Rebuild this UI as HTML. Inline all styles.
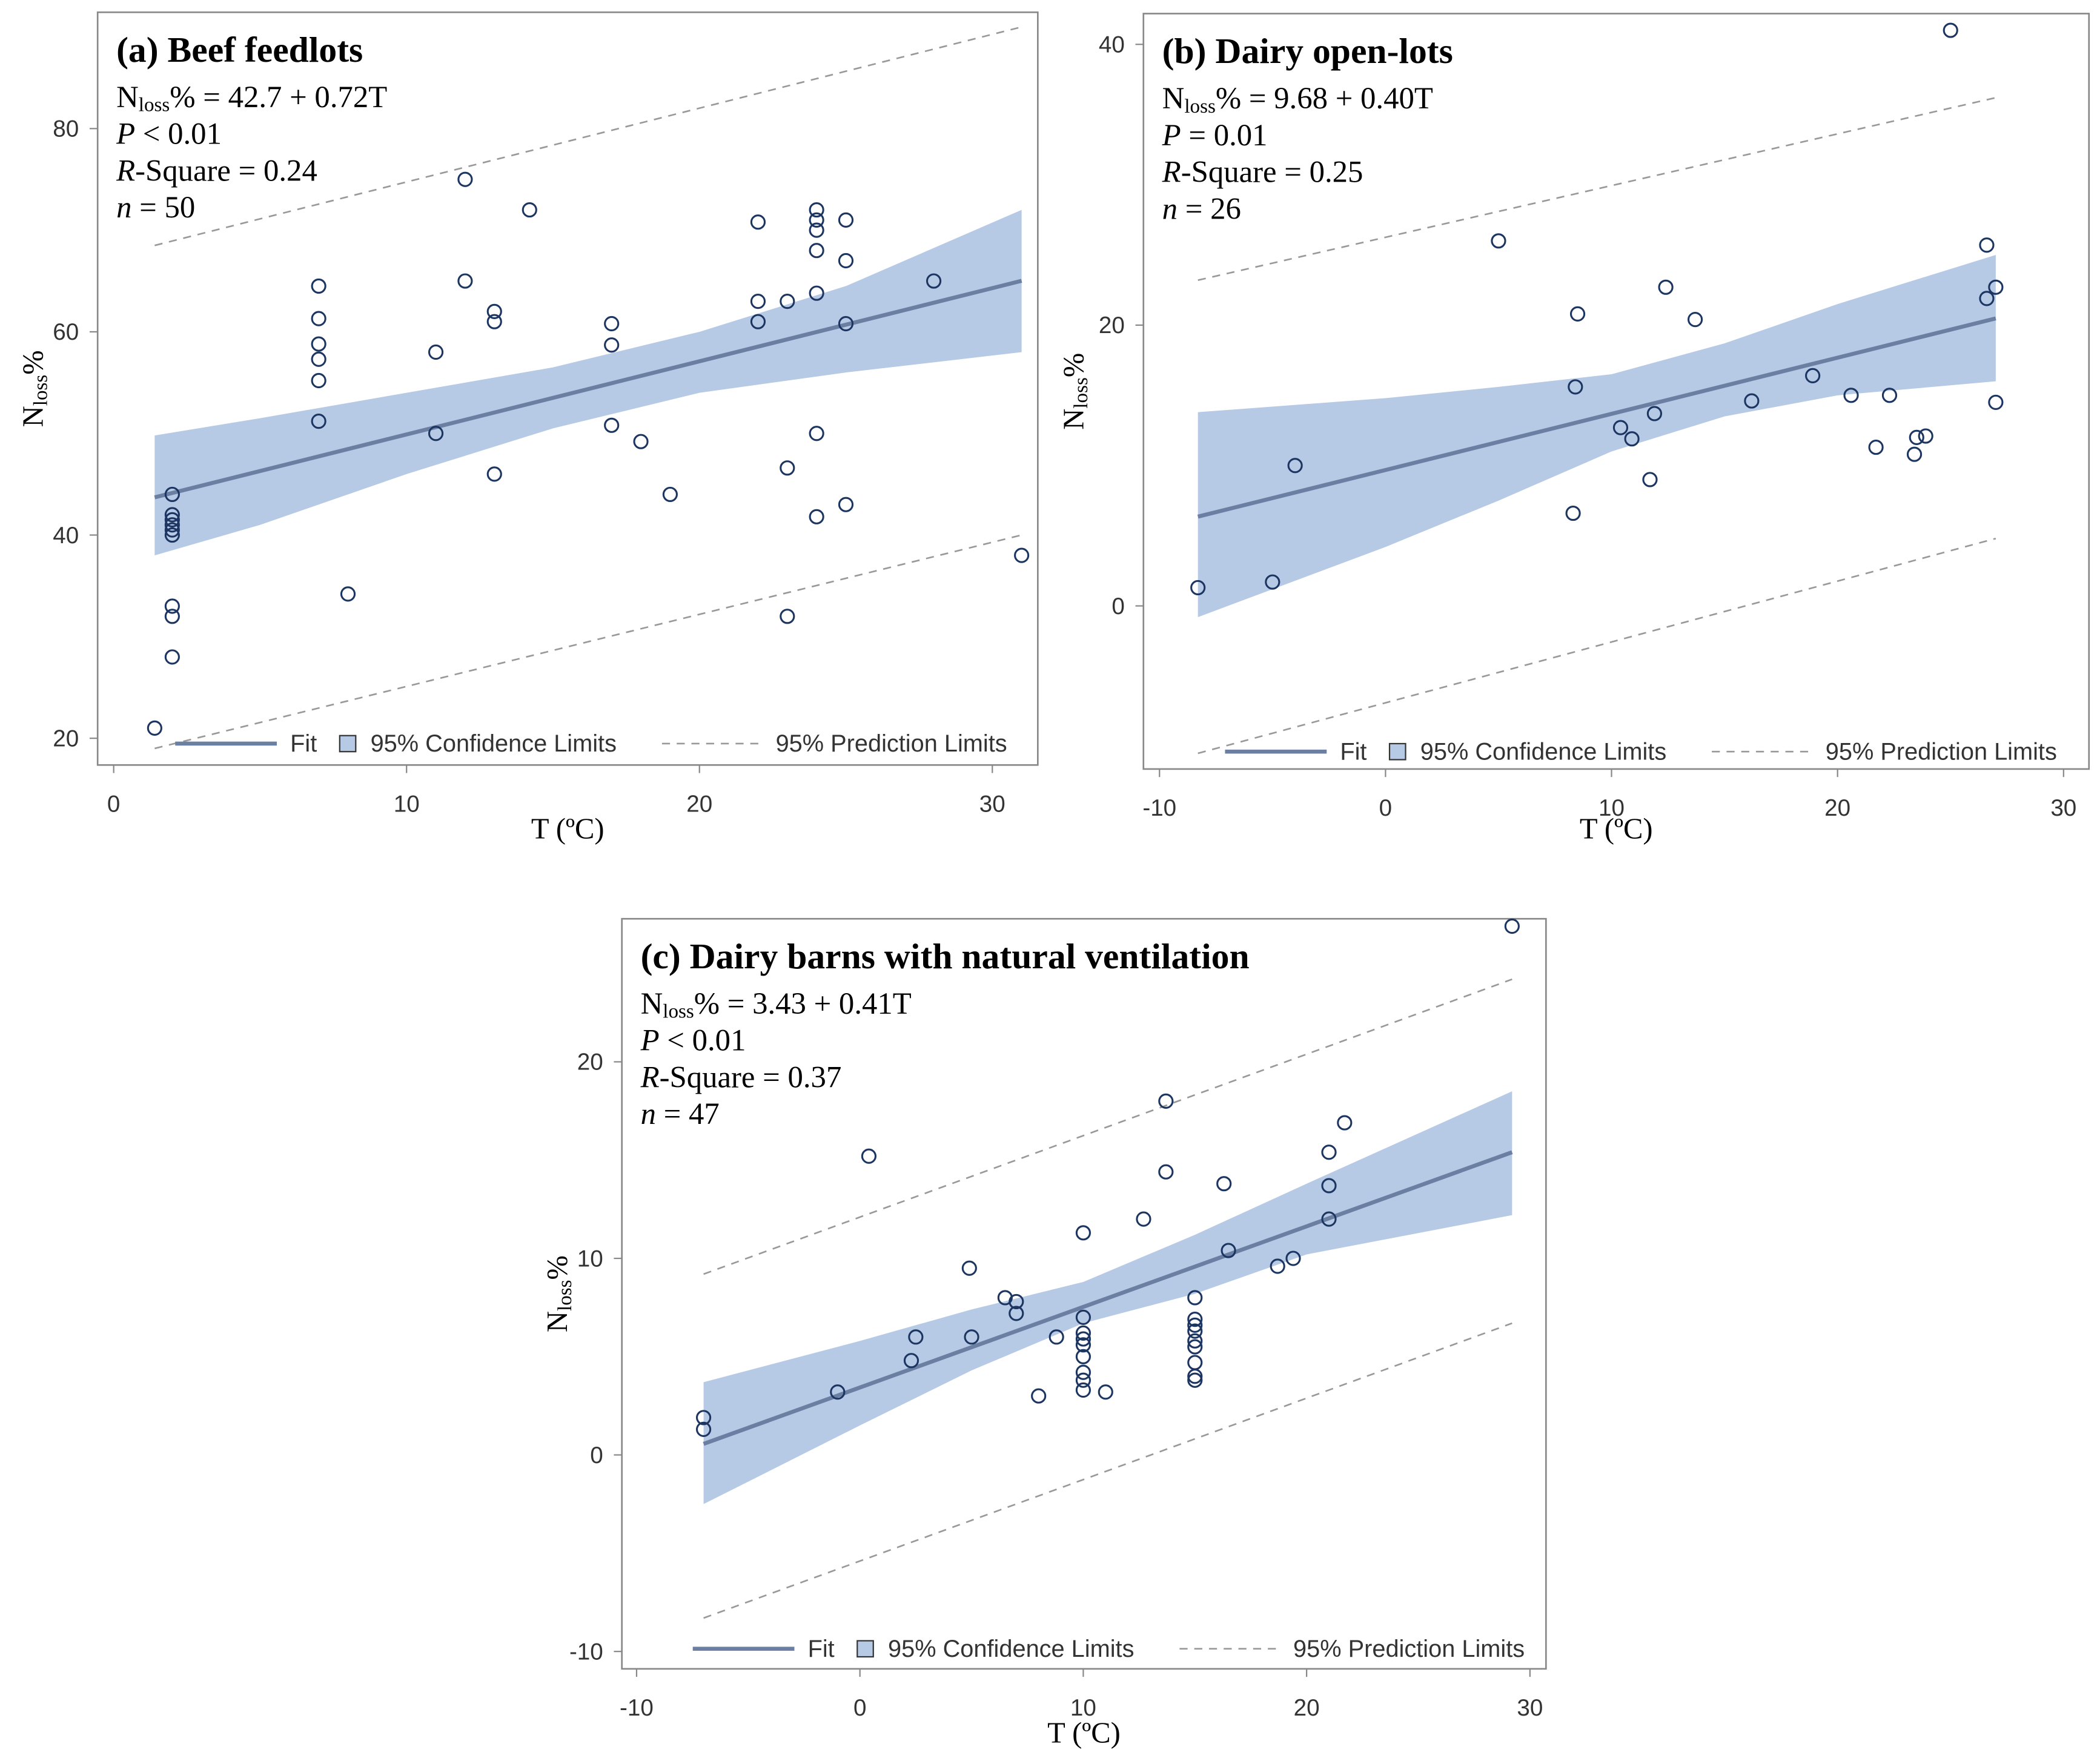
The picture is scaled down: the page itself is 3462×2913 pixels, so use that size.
<!DOCTYPE html>
<html><head><meta charset="utf-8"><style>
html,body{margin:0;padding:0;background:#fff}
svg{display:block}
.tick{font-family:"Liberation Sans",sans-serif;font-size:17.5px;fill:#333}
.ser{font-family:"Liberation Serif",serif;fill:#000}
.leg{font-family:"Liberation Sans",sans-serif;font-size:18px;fill:#333}
</style></head><body>
<svg id="fig" width="3462" height="2913" viewBox="0 0 1568 1319" xmlns="http://www.w3.org/2000/svg"></svg>
<script>
// Panel (a) data
const aX=[1.4,2,2,2,2,2,2,2,2,2,7,7,7,7,7,7,8,11,11,12,12,13,13,13,14.2,17,17,17,18,19,22,22,22,23,23,23,24,24,24,24,24,24,24,25,25,25,25,28,31];
const aY=[21,44,42,41.5,41,40.5,40,33,32,28,64.5,61.3,58.8,57.3,55.2,51.2,34.2,58,50,75,65,62,61,46,72,60.8,58.7,50.8,49.2,44,70.8,63,61,63,46.6,32,72,71,70,68,63.8,50,41.8,71,67,60.8,43,65,38];
const aBandX=[1.4,5,10,15,20,25,31];
const aBandUp=[49.8,51.5,54,56.5,60,64.5,72];
const aBandLo=[38,41,46,50.5,54,56,58];
const aFit=[42.7,0.72];
const aPredUp=[68.5,90];
const aPredLo=[19,40];
const aXTicks=[0,10,20,30];
const aYTicks=[20,40,60,80];
// Panel (b) data
const bX=[-8.3,-5,-4,5,8.3,8.4,8.5,10.4,10.9,11.7,11.9,12.4,13.7,16.2,18.9,20.6,22.3,21.7,23.4,23.5,23.9,25,26.6,26.6,27,27];
const bY=[1.3,1.7,10,26,6.6,15.6,20.8,12.7,11.9,9,13.7,22.7,20.4,14.6,16.4,15,15,11.3,10.8,12,12.1,41,25.7,21.9,22.7,14.5];
const bBandX=[-8.3,0,5,10,15,20,27];
const bBandUp=[13.8,14.8,15.6,16.5,18.7,21.5,25];
const bBandLo=[-0.8,4.2,7.5,11,13.5,15,16];
const bFit=[9.68,0.40];
const bPredUp=[23.2,36.2];
const bPredLo=[-10.5,4.8];
const bXTicks=[-10,0,10,20,30];
const bYTicks=[0,20,40];
// Panel (c) data
const cX=[-7,-7,-1,0.4,2.3,2.5,4.9,5,6.5,7,7,8,8.8,10,10,10,10,10,10,10,10,10,11,12.7,13.7,13.7,15,15,15,15,15,15,15,15,15,16.3,16.5,18.7,19.4,21,21,21,21.7,29.2];
const cY=[1.9,1.3,3.2,15.2,4.8,6,9.5,6,8,7.8,7.2,3,6,11.3,7,6.2,5.9,5.6,5,4.2,3.8,3.3,3.2,12,18,14.4,8,6.9,6.6,6.3,5.8,5.5,4.7,4,3.8,13.8,10.4,9.6,10,15.4,13.7,12,16.9,26.9];
const cBandX=[-7,0,5,10,15,20,29.2];
const cBandUp=[3.7,5.8,7.4,8.8,11.2,13.8,18.5];
const cBandLo=[-2.5,1.5,4.3,6.7,8.2,10.2,12.2];
const cFit=[3.43,0.41];
const cPredUp=[9.2,24.2];
const cPredLo=[-8.3,6.7];
const cXTicks=[-10,0,10,20,30];
const cYTicks=[-10,0,10,20];

const NS='http://www.w3.org/2000/svg';
const svg=document.getElementById('fig');
function mk(tag,attrs,parent,text){const e=document.createElementNS(NS,tag);for(const k in attrs)e.setAttribute(k,attrs[k]);if(text!==undefined)e.textContent=text;(parent||svg).appendChild(e);return e;}

function panel(id,fr,xs,ys,X,Y,bx,bu,bl,fit,pu,pl,xt,yt,title,lines,ylabX,xlabY,legY,legX0){
  const g=mk('g',{});
  
  
  const sx=v=>xs[0]+(v-xs[1])*xs[2];
  const sy=v=>ys[0]-(v-ys[1])*ys[2];
  const fr1=mk('rect',{x:fr[0],y:fr[1],width:fr[2]-fr[0],height:fr[3]-fr[1],fill:'#fff',stroke:'#888','stroke-width':1.2},g);
  
  
  let d='';
  bx.forEach((v,i)=>{d+=(i?'L':'M')+sx(v)+','+sy(bu[i]);});
  for(let i=bx.length-1;i>=0;i--)d+='L'+sx(bx[i])+','+sy(bl[i]);
  const band=mk('path',{d:d+'Z',fill:'#b6c9e5'},g);
  
  
  const x0=bx[0],x1=bx[bx.length-1];
  const fl=mk('line',{x1:sx(x0),y1:sy(fit[0]+fit[1]*x0),x2:sx(x1),y2:sy(fit[0]+fit[1]*x1),stroke:'#6b7fa3','stroke-width':3},g);
  
  
  const p1=mk('line',{x1:sx(x0),y1:sy(pu[0]),x2:sx(x1),y2:sy(pu[1]),stroke:'#999','stroke-width':1.2,'stroke-dasharray':'6,5'},g);
  
  
  const p2=mk('line',{x1:sx(x0),y1:sy(pl[0]),x2:sx(x1),y2:sy(pl[1]),stroke:'#999','stroke-width':1.2,'stroke-dasharray':'6,5'},g);
  
  
  X.forEach((v,i)=>{
    const c=mk('circle',{cx:sx(v),cy:sy(Y[i]),r:5,fill:'none',stroke:'#1c3561','stroke-width':1.4},g);
    
    
  });
  xt.forEach(v=>{
    mk('line',{x1:sx(v),y1:fr[3],x2:sx(v),y2:fr[3]+6,stroke:'#888'},g);
    const t=mk('text',{x:sx(v),y:fr[3]+35,'text-anchor':'middle',class:'tick'},g,String(v));
    
    
  });
  yt.forEach(v=>{
    mk('line',{x1:fr[0]-6,y1:sy(v),x2:fr[0],y2:sy(v),stroke:'#888'},g);
    const t=mk('text',{x:fr[0]-14,y:sy(v)+6,'text-anchor':'end',class:'tick'},g,String(v));
    
    
  });
  const tt=mk('text',{x:fr[0]+14,y:fr[1]+37,class:'ser','font-size':27,'font-weight':'bold'},g,title);
  
  
  lines.forEach((ln,i)=>{
    const t=mk('text',{x:fr[0]+14,y:fr[1]+71+i*27.5,class:'ser','font-size':23},g);
    
    
    ln.forEach(s=>{mk('tspan',s[1]||{},t,s[0]);});
  });
  const yl=mk('text',{transform:'translate('+ylabX+','+((fr[1]+fr[3])/2)+') rotate(-90)','text-anchor':'middle',class:'ser','font-size':22},g);
  
  
  mk('tspan',{},yl,'N');mk('tspan',{'font-size':15,dy:3},yl,'loss');mk('tspan',{dy:-3},yl,'%');
  const xl=mk('text',{x:(fr[0]+fr[2])/2,y:xlabY,'text-anchor':'middle',class:'ser','font-size':22},g,'T (ºC)');
  
  
  const L=legX0;
  const lg=mk('g',{},g);
  
  
  mk('line',{x1:L,y1:legY,x2:L+76,y2:legY,stroke:'#6b7fa3','stroke-width':3},lg);
  mk('text',{x:L+86,y:legY+6,class:'leg'},lg,'Fit');
  mk('rect',{x:L+123,y:legY-6,width:12,height:12,fill:'#b6c9e5',stroke:'#333','stroke-width':1},lg);
  mk('text',{x:L+146,y:legY+6,class:'leg'},lg,'95% Confidence Limits');
  mk('line',{x1:L+364,y1:legY,x2:L+437,y2:legY,stroke:'#999','stroke-width':1.2,'stroke-dasharray':'6,5'},lg);
  mk('text',{x:L+449,y:legY+6,class:'leg'},lg,'95% Prediction Limits');
}
const it={'font-style':'italic'};
panel('a',[73,9,776,572],[85,0,21.9],[552,20,7.6],aX,aY,aBandX,aBandUp,aBandLo,aFit,aPredUp,aPredLo,aXTicks,aYTicks,'(a) Beef feedlots',
 [[['N'],['loss',{'font-size':15,dy:3}],['% = 42.7 + 0.72T',{dy:-3}]],[['P',it],[' < 0.01']],[['R',it],['-Square = 0.24']],[['n',it],[' = 50']]],32,627,556,131);
panel('b',[855,10,1562,575],[1036,0,16.9],[453,0,10.5],bX,bY,bBandX,bBandUp,bBandLo,bFit,bPredUp,bPredLo,bXTicks,bYTicks,'(b) Dairy open-lots',
 [[['N'],['loss',{'font-size':15,dy:3}],['% = 9.68 + 0.40T',{dy:-3}]],[['P',it],[' = 0.01']],[['R',it],['-Square = 0.25']],[['n',it],[' = 26']]],810,627,562,916);
panel('c',[465,687,1156,1248],[643,0,16.7],[1088,0,14.7],cX,cY,cBandX,cBandUp,cBandLo,cFit,cPredUp,cPredLo,cXTicks,cYTicks,'(c) Dairy barns with natural ventilation',
 [[['N'],['loss',{'font-size':15,dy:3}],['% = 3.43 + 0.41T',{dy:-3}]],[['P',it],[' < 0.01']],[['R',it],['-Square = 0.37']],[['n',it],[' = 47']]],424,1303,1233,518);
</script>
</body></html>
